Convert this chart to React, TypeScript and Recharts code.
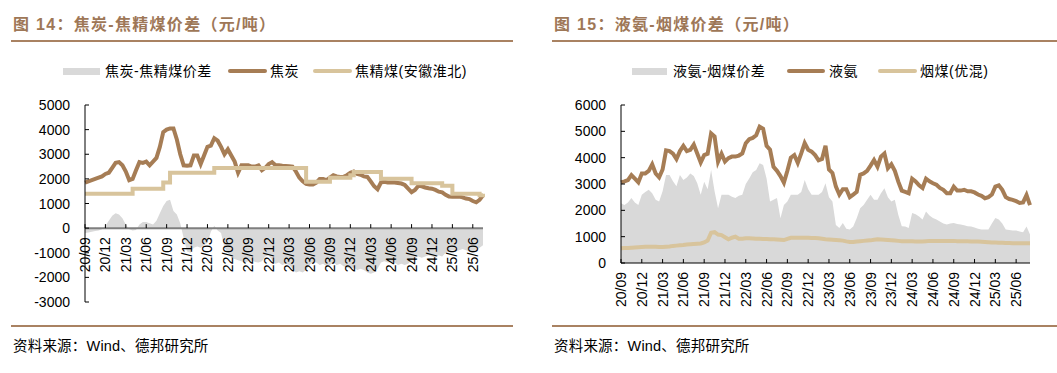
import React from 'react';
import { ComposedChart, Area, Line, XAxis, YAxis, ReferenceLine } from 'recharts';

// quarterly tick labels, one every 3 months starting 2020-09
const tickLabels = [
  '20/09', '20/12', '21/03', '21/06', '21/09', '21/12', '22/03', '22/06', '22/09', '22/12',
  '23/03', '23/06', '23/09', '23/12', '24/03', '24/06', '24/09', '24/12', '25/03', '25/06',
];

// 图14 - semi-monthly readings (元/吨)
const cokePrice = [
  1850, 1900, 1950, 2000, 2050, 2100, 2200, 2250, 2450, 2650,
  2680, 2550, 2300, 1950, 2000, 2350, 2680, 2650, 2700, 2550,
  2700, 2850, 3300, 3900, 4000, 4050, 4050, 3600, 3000, 2550,
  2530, 2550, 2950, 2950, 2600, 2950, 3300, 3350, 3650, 3550,
  3300, 3000, 3200, 2950, 2700, 2250, 2550, 2550, 2550, 2500,
  2500, 2550, 2350, 2450, 2600, 2680, 2550, 2550, 2530, 2520,
  2510, 2500, 2300, 2050, 1900, 1800, 1770, 1770, 1850, 2000,
  2000, 1950, 2050, 2150, 2100, 2080, 2080, 2150, 2250, 2300,
  2200, 2170, 2100, 2080, 1900, 1700, 1580, 1850, 1880, 1850,
  1850, 1850, 1830, 1810, 1750, 1600, 1460, 1550, 1720, 1700,
  1650, 1620, 1600, 1550, 1480, 1450, 1350, 1280, 1270, 1270,
  1280, 1250, 1200, 1180, 1100, 1050, 1150, 1330,
];
const cokingCoalPrice = [
  1400, 1400, 1400, 1400, 1400, 1400, 1400, 1400, 1400, 1400,
  1400, 1400, 1400, 1400, 1600, 1600, 1600, 1600, 1600, 1600,
  1600, 1600, 1600, 1850, 1850, 2250, 2250, 2250, 2250, 2250,
  2250, 2250, 2250, 2250, 2250, 2250, 2250, 2250, 2440, 2440,
  2440, 2440, 2440, 2440, 2440, 2440, 2440, 2440, 2440, 2440,
  2440, 2440, 2440, 2440, 2440, 2440, 2440, 2440, 2440, 2440,
  2440, 2440, 2440, 2440, 2440, 1880, 1880, 1880, 1880, 1880,
  1880, 1880, 2050, 2050, 2050, 2050, 2050, 2050, 2150, 2280,
  2280, 2280, 2280, 2280, 2280, 2280, 2280, 2010, 2010, 2010,
  2010, 2010, 2010, 2010, 2010, 2010, 1820, 1820, 1820, 1820,
  1820, 1820, 1820, 1820, 1820, 1720, 1720, 1720, 1400, 1400,
  1400, 1400, 1400, 1400, 1400, 1400, 1330, 1400,
];
const cokeSpread = [
  -200, -180, -150, -120, -100, -50, 100, 300, 500, 600,
  550, 400, 150, -50, -100, -80, 150, 250, 250, 200,
  150, 300, 600, 900, 1100, 1150, 700, 550, 200, -400,
  -950, -1000, -800, -750, -800, -700, -600, -150, 100, -100,
  -200, -800, -1000, -1200, -1250, -1300, -1350, -1400, -1350, -1300,
  -1380, -1400, -1350, -1150, -1100, -1300, -1450, -1400, -1500, -1450,
  -1500, -1650, -1800, -1750, -1800, -1700, -1500, -1380, -1400, -1500,
  -1450, -1550, -1500, -1400, -1500, -1450, -1550, -1600, -1650, -1600,
  -1700, -1650, -1700, -1800, -1850, -1800, -1650, -1400, -1350, -1400,
  -1380, -1400, -1500, -1450, -1500, -1450, -1300, -1200, -1150, -1200,
  -1150, -1100, -1150, -1200, -1100, -1150, -1000, -950, -900, -950,
  -900, -850, -900, -950, -1000, -900, -800, -700,
];

// 图15 - semi-monthly readings (元/吨)
const ammoniaPrice = [
  3060, 3100, 3150, 3340, 3200, 3060, 3400, 3400, 3500, 3750,
  3400, 3250, 3550, 4280, 4250, 4150, 3950, 4250, 4450, 4250,
  4300, 4500, 4160, 3820, 4100, 4150, 4920, 4800, 3850, 4150,
  3850, 3980, 4040, 4040, 4080, 4160, 4550, 4700, 4750, 4850,
  5180, 5100, 4450, 4300, 3650, 3500, 3300, 3050, 3500, 4000,
  4100, 3800, 4160, 4550, 4300, 4230, 4100, 3900, 3950, 4450,
  3550, 3420, 2900, 2600, 2800, 2800, 2500, 2600, 2700, 3350,
  3400, 3500, 3700, 3910, 3660, 4040, 4160, 3600, 3750, 3500,
  3090, 2750, 2700, 2650, 3200, 3100, 2950, 2850, 3200, 3100,
  3030, 2970, 2850, 2780, 2650, 2650, 2900, 2750, 2750, 2780,
  2720, 2720, 2680, 2600, 2550, 2460, 2500, 2600, 2900, 2950,
  2780, 2500, 2430, 2400, 2350, 2280, 2300, 2580, 2200,
];
const steamCoalPrice = [
  560, 570, 570, 580, 590, 600, 610, 620, 620, 620,
  620, 610, 610, 620, 630, 650, 660, 670, 680, 700,
  710, 720, 730, 740, 780, 850, 1150, 1170, 1080, 1060,
  980, 900, 960, 1000, 920, 920, 940, 940, 930, 920,
  920, 910, 910, 900, 900, 890, 880, 870, 920, 960,
  960, 960, 960, 960, 960, 950, 950, 940, 920, 900,
  890, 880, 870, 860, 850, 820, 800, 800, 820, 830,
  840, 850, 860, 880, 900, 890, 880, 870, 860, 850,
  840, 830, 830, 830, 830, 820, 820, 820, 830, 840,
  840, 840, 840, 840, 840, 840, 840, 830, 830, 830,
  830, 820, 820, 820, 810, 800, 790, 780, 780, 770,
  770, 760, 760, 750, 750, 750, 750, 750, 750,
];
const ammoniaSpread = [
  2270, 2200, 2300, 2470, 2300, 2200, 2590, 2700, 2780, 2650,
  2400, 2340, 2720, 3340, 3340, 3100, 2910, 3340, 3150, 3250,
  3400, 3300, 3030, 2590, 3090, 2800, 3530, 2720, 2080, 2590,
  2590, 2590, 2520, 2470, 2550, 2590, 3000, 3210, 3450, 3530,
  3790, 3720, 3210, 2340, 2400, 2470, 1700, 2200, 2340, 2590,
  2590, 2590, 2700, 3150, 2800, 2590, 2590, 2590, 2700, 3030,
  2500, 2340, 1440, 1330, 1520, 1300, 1270, 1390, 1700, 2080,
  2200, 2400, 2590, 2400, 2400, 2650, 2840, 2500, 2340, 2400,
  1830, 1400, 1390, 1330, 1900, 1850, 1770, 1650, 1960, 1800,
  1710, 1650, 1580, 1500, 1460, 1500, 1520, 1480, 1460, 1430,
  1400, 1390, 1350, 1300, 1270, 1270, 1270, 1500, 1710, 1650,
  1500, 1270, 1250, 1230, 1230, 1200, 1170, 1390, 1080,
];

const leftYTicks = [-3000, -2000, -1000, 0, 1000, 2000, 3000, 4000, 5000];
const rightYTicks = [0, 1000, 2000, 3000, 4000, 5000, 6000];

const BROWN = '#A67D55';
const TAN = '#D8C49C';
const GREY = '#D9D9D9';
const TITLE = '#9E7757';
const RULE = '#A98262';
const FONT = '"Liberation Sans", Arial, "Noto Sans CJK SC", sans-serif';

const xTicks = tickLabels.map((_, i) => i * 3);

const cokeData = cokePrice.map((v, i) => ({
  t: i / 2,
  price: v,
  coal: cokingCoalPrice[i],
  spread: cokeSpread[i],
}));
const ammoniaData = ammoniaPrice.map((v, i) => ({
  t: i / 2,
  price: v,
  coal: steamCoalPrice[i],
  spread: ammoniaSpread[i],
}));

const makeXTick = (axisY: number) => (props: any) => {
  const { x, payload } = props;
  const label = tickLabels[Math.round(payload.value / 3)];
  return (
    <g>
      <line x1={x} x2={x} y1={axisY - 4} y2={axisY} stroke="#000" />
      <text
        transform={`translate(${x},${axisY + 9}) rotate(-90)`}
        textAnchor="end"
        dominantBaseline="central"
        fontSize={14}
        fontFamily={FONT}
        fill="#000"
      >
        {label}
      </text>
    </g>
  );
};

const makeYTick = (axisX: number) => (props: any) => {
  const { y, payload } = props;
  return (
    <g>
      <line x1={axisX} x2={axisX + 4} y1={y} y2={y} stroke="#000" />
      <text
        x={axisX - 15}
        y={y}
        textAnchor="end"
        dominantBaseline="central"
        fontSize={14}
        fontFamily={FONT}
        fill="#000"
      >
        {payload.value}
      </text>
    </g>
  );
};

function Frame({ left, width, title, footer }: { left: number; width: number; title: string; footer: string }) {
  return (
    <>
      <div style={{ position: 'absolute', left: left + 2, top: 14, fontSize: 16, fontWeight: 'bold', letterSpacing: 1.3, color: TITLE, whiteSpace: 'nowrap', lineHeight: '22px' }}>
        {title}
      </div>
      <div style={{ position: 'absolute', left, top: 40, width, height: 2, background: RULE }} />
      <div style={{ position: 'absolute', left, top: 325, width, height: 2, background: RULE }} />
      <div style={{ position: 'absolute', left: left + 2, top: 337, fontSize: 14.5, letterSpacing: 0.2, color: '#000', whiteSpace: 'nowrap', lineHeight: '18px' }}>
        {footer}
      </div>
    </>
  );
}

function LegendRow({ items }: { items: { kind: 'area' | 'line'; color: string; x1: number; x2: number; label: string; tx: number }[] }) {
  return (
    <>
      {items.map((it) => (
        <React.Fragment key={it.label}>
          <div
            style={{
              position: 'absolute',
              left: it.x1,
              top: it.kind === 'area' ? 68 : 69,
              width: it.x2 - it.x1,
              height: it.kind === 'area' ? 7 : 4,
              borderRadius: it.kind === 'area' ? 0 : 2,
              background: it.color,
            }}
          />
          <div style={{ position: 'absolute', left: it.tx, top: 62, fontSize: 14, letterSpacing: 0.5, lineHeight: '18px', color: '#000', whiteSpace: 'nowrap' }}>
            {it.label}
          </div>
        </React.Fragment>
      ))}
    </>
  );
}

const LEFT_ZERO_Y = 105 + (197 * 5000) / 8000;

export default function App() {
  return (
    <div style={{ position: 'absolute', left: 0, top: 0, width: 1057, height: 373, background: '#fff', fontFamily: FONT, overflow: 'hidden' }}>
      <Frame left={11} width={502} title="图 14：焦炭-焦精煤价差（元/吨）" footer="资料来源：Wind、德邦研究所" />
      <Frame left={552} width={505} title="图 15：液氨-烟煤价差（元/吨）" footer="资料来源：Wind、德邦研究所" />

      <LegendRow
        items={[
          { kind: 'area', color: GREY, x1: 63, x2: 100, label: '焦炭-焦精煤价差', tx: 105 },
          { kind: 'line', color: BROWN, x1: 228, x2: 267, label: '焦炭', tx: 270 },
          { kind: 'line', color: TAN, x1: 313, x2: 352, label: '焦精煤(安徽淮北)', tx: 355 },
        ]}
      />
      <LegendRow
        items={[
          { kind: 'area', color: GREY, x1: 632, x2: 667, label: '液氨-烟煤价差', tx: 673 },
          { kind: 'line', color: BROWN, x1: 787, x2: 825, label: '液氨', tx: 829 },
          { kind: 'line', color: TAN, x1: 878, x2: 917, label: '烟煤(优混)', tx: 920 },
        ]}
      />

      <div style={{ position: 'absolute', left: 0, top: 0 }}>
        <ComposedChart width={530} height={373} data={cokeData} margin={{ top: 105, right: 47, bottom: 70, left: 25 }}>
          <XAxis
            type="number"
            dataKey="t"
            domain={[0, 58.5]}
            ticks={xTicks}
            interval={0}
            tick={makeXTick(LEFT_ZERO_Y)}
            axisLine={false}
            tickLine={false}
            height={1}
          />
          <YAxis
            domain={[-3000, 5000]}
            ticks={leftYTicks}
            interval={0}
            tick={makeYTick(85)}
            tickLine={false}
            axisLine={{ stroke: '#000' }}
            width={60}
          />
          <Area type="linear" dataKey="spread" baseValue={0} fill={GREY} fillOpacity={1} stroke="none" isAnimationActive={false} />
          <ReferenceLine y={0} stroke="#7F7F7F" strokeWidth={2} />
          <Line type="linear" dataKey="price" stroke={BROWN} strokeWidth={4} dot={false} isAnimationActive={false} />
          <Line type="stepAfter" dataKey="coal" stroke={TAN} strokeWidth={4} dot={false} isAnimationActive={false} />
        </ComposedChart>
      </div>

      <div style={{ position: 'absolute', left: 540, top: 0 }}>
        <ComposedChart width={517} height={373} data={ammoniaData} margin={{ top: 105, right: 27, bottom: 109, left: 21 }}>
          <XAxis
            type="number"
            dataKey="t"
            domain={[0, 59]}
            ticks={xTicks}
            interval={0}
            tick={makeXTick(263)}
            axisLine={{ stroke: '#000' }}
            tickLine={false}
            height={1}
          />
          <YAxis
            domain={[0, 6000]}
            ticks={rightYTicks}
            interval={0}
            tick={makeYTick(81)}
            tickLine={false}
            axisLine={{ stroke: '#000' }}
            width={60}
          />
          <Area type="linear" dataKey="spread" baseValue={0} fill={GREY} fillOpacity={1} stroke="none" isAnimationActive={false} />
          <Line type="linear" dataKey="price" stroke={BROWN} strokeWidth={4} dot={false} isAnimationActive={false} />
          <Line type="linear" dataKey="coal" stroke={TAN} strokeWidth={4} dot={false} isAnimationActive={false} />
        </ComposedChart>
      </div>
    </div>
  );
}
